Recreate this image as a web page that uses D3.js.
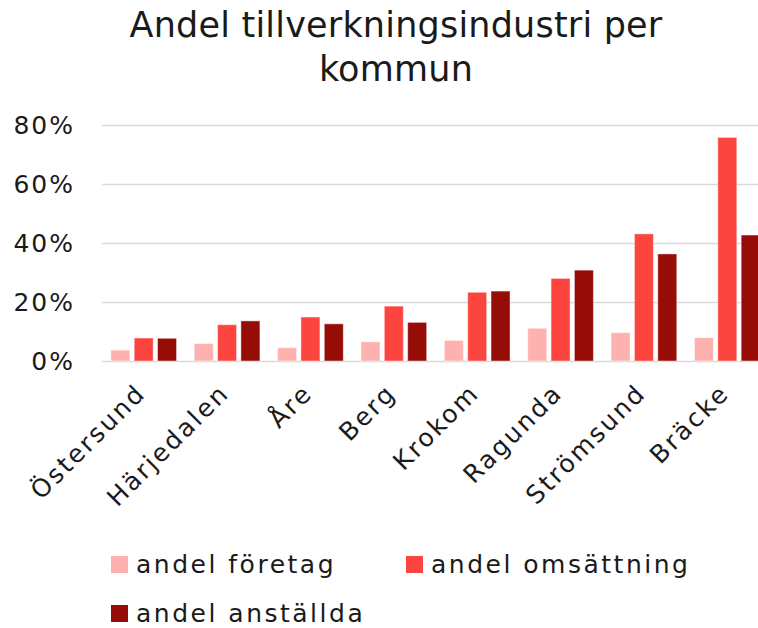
<!DOCTYPE html>
<html>
<head>
<meta charset="utf-8">
<script src="https://cdn.jsdelivr.net/npm/d3@7.9.0/dist/d3.min.js"></script>
<style>
  html, body { margin: 0; padding: 0; background: #fff; }
  svg { display: block; overflow: hidden; }
  text { font-family: 'DejaVu Sans', sans-serif; fill: #1a1a1a; }
</style>
</head>
<body>
<div id="chart"></div>
<script>
const kommuner = ['Östersund', 'Härjedalen', 'Åre', 'Berg', 'Krokom', 'Ragunda', 'Strömsund', 'Bräcke'];
const series = ['andel företag', 'andel omsättning', 'andel anställda'];
const colors = ['#fdb2b0', '#fc453f', '#960d08'];

// values in percent
const andelForetag = [3.7, 5.9, 4.5, 6.5, 7.0, 11.1, 9.6, 7.9];
const andelOmsattning = [7.8, 12.3, 14.9, 18.6, 23.3, 28.0, 43.1, 75.8];
const andelAnstallda = [7.7, 13.6, 12.6, 13.1, 23.7, 30.8, 36.3, 42.7];
const yTicks = [0, 20, 40, 60, 80];

const values = [andelForetag, andelOmsattning, andelAnstallda];

const width = 758;
const height = 628;
const plot = { left: 102, right: 769, top: 125, bottom: 361 };

const svg = d3.select('#chart')
  .append('svg')
  .attr('width', width)
  .attr('height', height);

// title
const title = svg.append('text')
  .attr('text-anchor', 'middle')
  .style('font-size', '35px')
  .style('letter-spacing', '0.2px');
title.append('tspan').attr('x', 396).attr('y', 37).text('Andel tillverkningsindustri per');
title.append('tspan').attr('x', 396).attr('y', 81).text('kommun');

const x0 = d3.scaleBand()
  .domain(kommuner)
  .range([plot.left, plot.right])
  .paddingInner(0.212)
  .paddingOuter(0.106);

const x1 = d3.scaleBand()
  .domain(series)
  .range([0, x0.bandwidth()])
  .paddingInner(0.186);

const y = d3.scaleLinear()
  .domain([0, 80])
  .range([plot.bottom, plot.top]);

// gridlines
svg.append('g')
  .attr('class', 'gridlines')
  .attr('transform', `translate(${plot.left}, 0)`)
  .call(d3.axisLeft(y).tickValues(yTicks).tickFormat('').tickSize(-(width - plot.left)))
  .call((g) => g.select('.domain').remove())
  .call((g) => g.selectAll('line').attr('stroke', '#d9d9d9').attr('stroke-width', 1.5));

// y axis labels
svg.append('g')
  .attr('transform', `translate(${plot.left}, 0)`)
  .call(d3.axisLeft(y).tickValues(yTicks).tickSize(0).tickPadding(27).tickFormat((d) => d + '%'))
  .call((g) => g.select('.domain').remove())
  .call((g) => g.selectAll('text')
    .style('font-size', '25px')
    .style('letter-spacing', '2px')
    .style('font-family', "'DejaVu Sans', sans-serif")
    .attr('fill', '#1a1a1a'));

// bars
const rows = kommuner.map((k, i) => ({
  kommun: k,
  vals: series.map((s, j) => ({ key: s, value: values[j][i], color: colors[j] })),
}));

svg.append('g')
  .selectAll('g')
  .data(rows)
  .join('g')
  .attr('transform', (d) => `translate(${x0(d.kommun)}, 0)`)
  .selectAll('rect')
  .data((d) => d.vals)
  .join('rect')
  .attr('x', (d) => x1(d.key))
  .attr('y', (d) => y(d.value))
  .attr('width', x1.bandwidth())
  .attr('height', (d) => y(0) - y(d.value))
  .attr('fill', (d) => d.color)
  .attr('stroke', 'rgba(255,255,255,0.45)')
  .attr('stroke-width', 1);

// x labels, rotated
svg.append('g')
  .selectAll('text')
  .data(kommuner)
  .join('text')
  .attr('transform', (d) => `translate(${x0(d) + x0.bandwidth() / 2 - 9}, 382) rotate(-45)`)
  .attr('text-anchor', 'end')
  .attr('dy', '0.71em')
  .style('font-size', '25px')
  .style('letter-spacing', '2.4px')
  .text((d) => d);

// legend
const legendItems = [
  { x: 111, y: 573 },
  { x: 406, y: 573 },
  { x: 111, y: 622 },
];
const legend = svg.append('g')
  .selectAll('g')
  .data(series)
  .join('g')
  .attr('transform', (d, i) => `translate(${legendItems[i].x}, ${legendItems[i].y})`);

legend.append('rect')
  .attr('x', 0)
  .attr('y', -17)
  .attr('width', 17)
  .attr('height', 17)
  .attr('fill', (d, i) => colors[i]);

legend.append('text')
  .attr('x', 25)
  .attr('y', 0)
  .style('font-size', '25px')
  .style('letter-spacing', '2.5px')
  .text((d) => d);
</script>
</body>
</html>
